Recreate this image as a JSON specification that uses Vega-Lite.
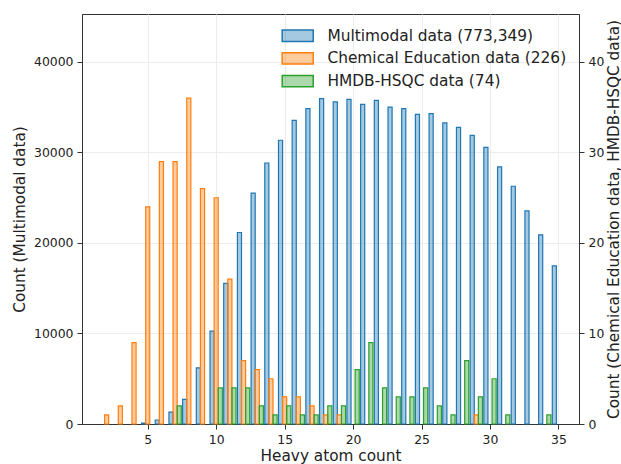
{
  "$schema": "https://vega.github.io/schema/vega-lite/v6.json",
  "width": 497,
  "height": 410,
  "autosize": "none",
  "padding": {"left": 82, "top": 14, "right": 42, "bottom": 40},
  "config": {
    "font": "DejaVu Sans",
    "background": "white",
    "view": {"stroke": "#333333", "strokeWidth": 1},
    "axis": {
      "domainColor": "#333333", "tickColor": "#333333", "labelColor": "#222222", "titleColor": "#222222",
      "labelFontSize": 12.4, "titleFontSize": 15.3, "titleFontWeight": "normal",
      "tickSize": 5, "labelPadding": 4, "gridColor": "#ececec", "domainWidth": 1, "tickWidth": 1
    }
  },
  "data": {
    "values": [
      {"atoms": 5, "series": "Multimodal data (773,349)", "count": 100},
      {"atoms": 6, "series": "Multimodal data (773,349)", "count": 440},
      {"atoms": 7, "series": "Multimodal data (773,349)", "count": 1320},
      {"atoms": 8, "series": "Multimodal data (773,349)", "count": 2720},
      {"atoms": 9, "series": "Multimodal data (773,349)", "count": 6210},
      {"atoms": 10, "series": "Multimodal data (773,349)", "count": 10260},
      {"atoms": 11, "series": "Multimodal data (773,349)", "count": 15530},
      {"atoms": 12, "series": "Multimodal data (773,349)", "count": 21160},
      {"atoms": 13, "series": "Multimodal data (773,349)", "count": 25500},
      {"atoms": 14, "series": "Multimodal data (773,349)", "count": 28840},
      {"atoms": 15, "series": "Multimodal data (773,349)", "count": 31350},
      {"atoms": 16, "series": "Multimodal data (773,349)", "count": 33550},
      {"atoms": 17, "series": "Multimodal data (773,349)", "count": 34850},
      {"atoms": 18, "series": "Multimodal data (773,349)", "count": 35950},
      {"atoms": 19, "series": "Multimodal data (773,349)", "count": 35580},
      {"atoms": 20, "series": "Multimodal data (773,349)", "count": 35870},
      {"atoms": 21, "series": "Multimodal data (773,349)", "count": 35320},
      {"atoms": 22, "series": "Multimodal data (773,349)", "count": 35760},
      {"atoms": 23, "series": "Multimodal data (773,349)", "count": 35000},
      {"atoms": 24, "series": "Multimodal data (773,349)", "count": 34850},
      {"atoms": 25, "series": "Multimodal data (773,349)", "count": 34220},
      {"atoms": 26, "series": "Multimodal data (773,349)", "count": 34300},
      {"atoms": 27, "series": "Multimodal data (773,349)", "count": 33260},
      {"atoms": 28, "series": "Multimodal data (773,349)", "count": 32780},
      {"atoms": 29, "series": "Multimodal data (773,349)", "count": 31900},
      {"atoms": 30, "series": "Multimodal data (773,349)", "count": 30570},
      {"atoms": 31, "series": "Multimodal data (773,349)", "count": 28400},
      {"atoms": 32, "series": "Multimodal data (773,349)", "count": 26270},
      {"atoms": 33, "series": "Multimodal data (773,349)", "count": 23540},
      {"atoms": 34, "series": "Multimodal data (773,349)", "count": 20900},
      {"atoms": 35, "series": "Multimodal data (773,349)", "count": 17470},
      {"atoms": 2, "series": "Chemical Education data (226)", "count": 1},
      {"atoms": 3, "series": "Chemical Education data (226)", "count": 2},
      {"atoms": 4, "series": "Chemical Education data (226)", "count": 9},
      {"atoms": 5, "series": "Chemical Education data (226)", "count": 24},
      {"atoms": 6, "series": "Chemical Education data (226)", "count": 29},
      {"atoms": 7, "series": "Chemical Education data (226)", "count": 29},
      {"atoms": 8, "series": "Chemical Education data (226)", "count": 36},
      {"atoms": 9, "series": "Chemical Education data (226)", "count": 26},
      {"atoms": 10, "series": "Chemical Education data (226)", "count": 25},
      {"atoms": 11, "series": "Chemical Education data (226)", "count": 16},
      {"atoms": 12, "series": "Chemical Education data (226)", "count": 7},
      {"atoms": 13, "series": "Chemical Education data (226)", "count": 6},
      {"atoms": 14, "series": "Chemical Education data (226)", "count": 5},
      {"atoms": 15, "series": "Chemical Education data (226)", "count": 3},
      {"atoms": 16, "series": "Chemical Education data (226)", "count": 3},
      {"atoms": 17, "series": "Chemical Education data (226)", "count": 2},
      {"atoms": 18, "series": "Chemical Education data (226)", "count": 1},
      {"atoms": 19, "series": "Chemical Education data (226)", "count": 1},
      {"atoms": 29, "series": "Chemical Education data (226)", "count": 1},
      {"atoms": 7, "series": "HMDB-HSQC data (74)", "count": 2},
      {"atoms": 10, "series": "HMDB-HSQC data (74)", "count": 4},
      {"atoms": 11, "series": "HMDB-HSQC data (74)", "count": 4},
      {"atoms": 12, "series": "HMDB-HSQC data (74)", "count": 4},
      {"atoms": 13, "series": "HMDB-HSQC data (74)", "count": 2},
      {"atoms": 14, "series": "HMDB-HSQC data (74)", "count": 1},
      {"atoms": 15, "series": "HMDB-HSQC data (74)", "count": 2},
      {"atoms": 16, "series": "HMDB-HSQC data (74)", "count": 1},
      {"atoms": 17, "series": "HMDB-HSQC data (74)", "count": 1},
      {"atoms": 18, "series": "HMDB-HSQC data (74)", "count": 2},
      {"atoms": 19, "series": "HMDB-HSQC data (74)", "count": 2},
      {"atoms": 20, "series": "HMDB-HSQC data (74)", "count": 6},
      {"atoms": 21, "series": "HMDB-HSQC data (74)", "count": 9},
      {"atoms": 22, "series": "HMDB-HSQC data (74)", "count": 4},
      {"atoms": 23, "series": "HMDB-HSQC data (74)", "count": 3},
      {"atoms": 24, "series": "HMDB-HSQC data (74)", "count": 3},
      {"atoms": 25, "series": "HMDB-HSQC data (74)", "count": 4},
      {"atoms": 26, "series": "HMDB-HSQC data (74)", "count": 2},
      {"atoms": 27, "series": "HMDB-HSQC data (74)", "count": 1},
      {"atoms": 28, "series": "HMDB-HSQC data (74)", "count": 7},
      {"atoms": 29, "series": "HMDB-HSQC data (74)", "count": 3},
      {"atoms": 30, "series": "HMDB-HSQC data (74)", "count": 5},
      {"atoms": 31, "series": "HMDB-HSQC data (74)", "count": 1},
      {"atoms": 34, "series": "HMDB-HSQC data (74)", "count": 1}
    ]
  },
  "layer": [
    {
      "transform": [
        {"filter": "datum.series === 'Multimodal data (773,349)'"},
        {"calculate": "datum.atoms - 0.45", "as": "x0"},
        {"calculate": "datum.atoms - 0.15", "as": "x1"}
      ],
      "mark": {"type": "bar", "fillOpacity": 0.4, "strokeWidth": 1.2},
      "encoding": {
        "x": {"field": "x0", "type": "quantitative", "scale": {"domain": [0.2, 36.5], "nice": false, "zero": false},
              "axis": {"values": [5, 10, 15, 20, 25, 30, 35], "title": "Heavy atom count", "grid": true, "titlePadding": 3}},
        "x2": {"field": "x1"},
        "y": {"field": "count", "type": "quantitative", "scale": {"domain": [0, 45300], "nice": false},
              "axis": {"orient": "left", "values": [0, 10000, 20000, 30000, 40000], "format": "d", "title": "Count (Multimodal data)", "grid": true, "titlePadding": 6}},
        "y2": {"datum": 0},
        "color": {"field": "series", "type": "nominal",
                  "scale": {"domain": ["Multimodal data (773,349)", "Chemical Education data (226)", "HMDB-HSQC data (74)"], "range": ["#1f77b4", "#ff7f0e", "#2ca02c"]},
                  "legend": {"orient": "none", "legendX": 208, "legendY": 14, "title": null, "labelFontSize": 15.4, "labelColor": "#222222", "labelLimit": 0,
                             "symbolType": "M-3,-1.1H3V1.1H-3Z", "symbolSize": 107, "symbolStrokeWidth": 1.5,
                             "labelOffset": 22, "rowPadding": 4.7, "padding": 0,
                             "encode": {"symbols": {"update": {"fillOpacity": {"value": 0.4}, "stroke": {"scale": "color", "field": "value"}, "strokeWidth": {"value": 1.5}}}}}},
        "stroke": {"field": "series", "type": "nominal",
                   "scale": {"domain": ["Multimodal data (773,349)", "Chemical Education data (226)", "HMDB-HSQC data (74)"], "range": ["#1f77b4", "#ff7f0e", "#2ca02c"]},
                   "legend": null}
      }
    },
    {
      "transform": [
        {"filter": "datum.series !== 'Multimodal data (773,349)'"},
        {"calculate": "datum.series === 'HMDB-HSQC data (74)' ? datum.atoms + 0.15 : datum.atoms - 0.15", "as": "x0"},
        {"calculate": "datum.series === 'HMDB-HSQC data (74)' ? datum.atoms + 0.45 : datum.atoms + 0.15", "as": "x1"}
      ],
      "mark": {"type": "bar", "fillOpacity": 0.4, "strokeWidth": 1.2},
      "encoding": {
        "x": {"field": "x0", "type": "quantitative"},
        "x2": {"field": "x1"},
        "y": {"field": "count", "type": "quantitative", "scale": {"domain": [0, 45.3], "nice": false},
              "axis": {"orient": "right", "values": [0, 10, 20, 30, 40], "title": "Count (Chemical Education data, HMDB-HSQC data)", "titleAngle": -90, "grid": false,
                       "titleX": 34, "titleY": 205, "titleAlign": "center", "titleBaseline": "middle"}},
        "y2": {"datum": 0},
        "color": {"field": "series", "type": "nominal"},
        "stroke": {"field": "series", "type": "nominal", "legend": null}
      }
    }
  ],
  "resolve": {"scale": {"y": "independent"}, "axis": {"y": "independent"}}
}
